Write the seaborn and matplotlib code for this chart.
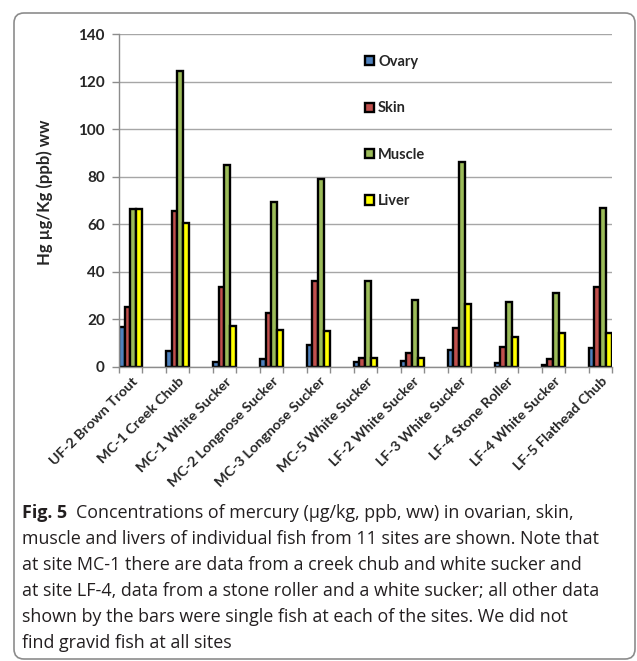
import matplotlib
matplotlib.use("Agg")
import matplotlib.pyplot as plt
import matplotlib.transforms as mtransforms
import seaborn as sns
import pandas as pd
import numpy as np
from matplotlib.patches import FancyBboxPatch, Patch

sites = ["UF-2 Brown Trout", "MC-1 Creek Chub", "MC-1 White Sucker",
         "MC-2 Longnose Sucker", "MC-3 Longnose Sucker", "MC-5 White Sucker",
         "LF-2 White Sucker", "LF-3 White Sucker", "LF-4 Stone Roller",
         "LF-4 White Sucker", "LF-5 Flathead Chub"]
ovary = [16.9, 6.7, 2.2, 3.5, 9.2, 2.2, 2.6, 7.3, 1.5, 1.0, 7.8]
skin = [25.1, 65.7, 33.6, 22.8, 36.3, 3.9, 6.0, 16.5, 8.4, 3.5, 33.7]
muscle = [66.5, 124.4, 85.0, 69.3, 79.0, 36.1, 28.4, 86.1, 27.3, 31.2, 66.7]
liver = [66.3, 60.6, 17.2, 15.5, 15.3, 3.8, 3.8, 26.6, 12.6, 14.4, 14.4]
tissues = ["Ovary", "Skin", "Muscle", "Liver"]
colors = ["#4F81BD", "#C0504D", "#9BBB59", "#FFFF00"]
yticks = [0, 20, 40, 60, 80, 100, 120, 140]
ylabel = "Hg µg/Kg (ppb) ww"
cap_bold = "Fig. 5"
cap_lines = [
    "Concentrations of mercury (µg/kg, ppb, ww) in ovarian, skin,",
    "muscle and livers of individual fish from 11 sites are shown. Note that",
    "at site MC-1 there are data from a creek chub and white sucker and",
    "at site LF-4, data from a stone roller and a white sucker; all other data",
    "shown by the bars were single fish at each of the sites. We did not",
    "find gravid fish at all sites",
]

values = {"Ovary": ovary, "Skin": skin, "Muscle": muscle, "Liver": liver}
rows = []
for t in tissues:
    for s, v in zip(sites, values[t]):
        rows.append({"site": s, "tissue": t, "value": v})
df = pd.DataFrame(rows)

sns.set_theme(style="white")
plt.rcParams["font.family"] = ["Lato", "DejaVu Sans"]

W, H = 637, 661
fig = plt.figure(figsize=(W / 100, H / 100), dpi=100)
fig.patch.set_facecolor("white")

# outer rounded frame
frame = FancyBboxPatch((0.14, 0.02), 6.21, 6.46,
                       boxstyle="round,pad=0,rounding_size=0.1",
                       transform=fig.dpi_scale_trans, facecolor="none",
                       edgecolor="#8c8c8c", linewidth=1.2)
fig.patches.append(frame)

ax_l, ax_r, ax_t, ax_b = 118.7, 612, 34.3, 367
ax = fig.add_axes([ax_l / W, 1 - ax_b / H, (ax_r - ax_l) / W, (ax_b - ax_t) / H])
ax.set_facecolor("none")

sns.barplot(data=df, x="site", y="value", hue="tissue", hue_order=tissues,
            palette=colors, width=0.5, saturation=1, edgecolor="black",
            linewidth=1.7, ax=ax, legend=False, errorbar=None)

ax.set_xlim(-0.25, 10.25)
ax.set_ylim(0, 140)
ax.set_yticks(yticks)
ax.yaxis.grid(True, color="#a6a6a6", linewidth=1.0)
ax.set_axisbelow(True)
for sp in ["top", "right"]:
    ax.spines[sp].set_visible(False)
for sp in ["left", "bottom"]:
    ax.spines[sp].set_color("#8c8c8c")
    ax.spines[sp].set_linewidth(1.0)

ax.tick_params(axis="y", direction="out", length=5, width=1, color="#8c8c8c",
               labelsize=11, pad=5, left=True)
for lab in ax.get_yticklabels():
    lab.set_fontweight("bold")

ax.set_xticks(range(len(sites)))
ax.set_xticklabels(sites, rotation=45, ha="right", va="center",
                   rotation_mode="anchor", fontsize=10.4, fontweight="bold")
ax.tick_params(axis="x", which="major", length=0, pad=9)
shift = mtransforms.ScaledTranslation(5 / 100, 0, fig.dpi_scale_trans)
for lab in ax.get_xticklabels():
    lab.set_transform(lab.get_transform() + shift)
ax.set_xticks(np.arange(-0.25, 10.26, 0.5), minor=True)
ax.tick_params(axis="x", which="minor", direction="out", length=4, width=1,
               color="#8c8c8c", bottom=True)
ax.set_xlabel("")
ax.set_ylabel(ylabel, fontsize=12, fontweight="bold")
ax.yaxis.set_label_coords(-0.133, 0.526)

handles = [Patch(facecolor=c, edgecolor="black", linewidth=1.7, label=t)
           for c, t in zip(colors, tissues)]
leg = ax.legend(handles=handles, loc="upper left",
                bbox_to_anchor=(365 / W, 1 - 55 / H), bbox_transform=fig.transFigure,
                frameon=False, fontsize=10.5, handlelength=0.6, handleheight=0.6,
                handletextpad=0.3, labelspacing=2.22, borderpad=0, borderaxespad=0)
for txt in leg.get_texts():
    txt.set_fontweight("bold")

# caption
cap_font = ["Open Sans", "DejaVu Sans"]
cap_color = "#231f20"
x0 = 22
x_right = 602
base0 = 518
step = 26
# fit caption width to the reference block width
probe = fig.text(0, 0, cap_lines[1], fontsize=10, family=cap_font)
fig.canvas.draw()
pw = probe.get_window_extent().width
probe.remove()
cap_size = 10 * (x_right - x0) / pw

tb = fig.text(x0 / W, 1 - base0 / H, cap_bold, fontsize=cap_size, fontweight="bold",
              family=cap_font, color=cap_color, va="baseline", ha="left")
fig.canvas.draw()
bb = tb.get_window_extent()
fig.text((bb.x1 + 9) / W, 1 - base0 / H, cap_lines[0], fontsize=cap_size,
         family=cap_font, color=cap_color, va="baseline", ha="left")
for i, line in enumerate(cap_lines[1:], start=1):
    fig.text(x0 / W, 1 - (base0 + i * step) / H, line, fontsize=cap_size,
             family=cap_font, color=cap_color, va="baseline", ha="left")

fig.savefig("out.png", dpi=100)
